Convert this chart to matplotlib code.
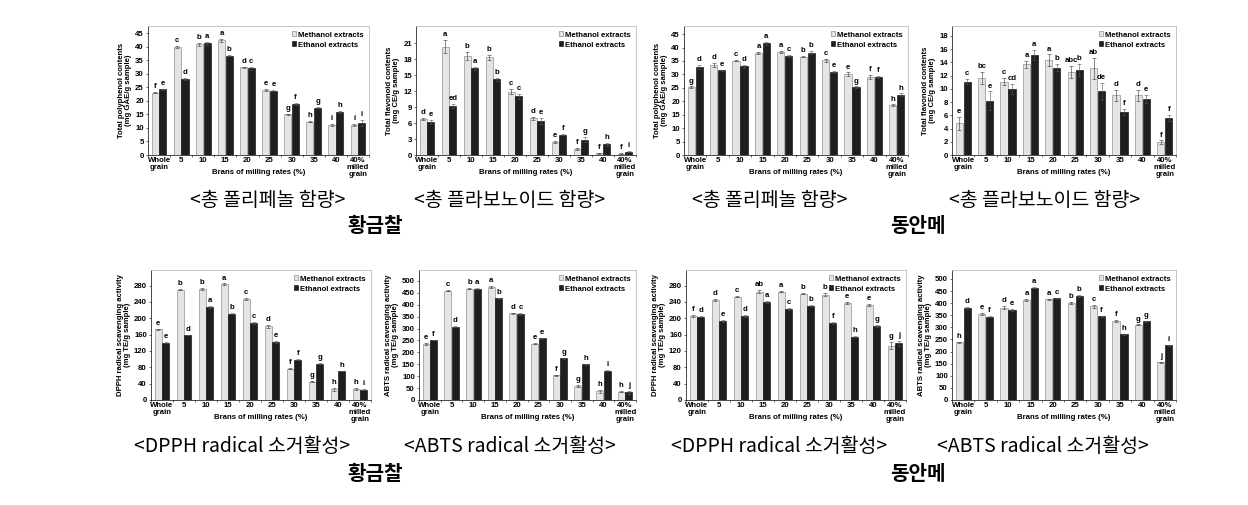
import numpy as np
import matplotlib.pyplot as plt
from matplotlib.patches import Patch

categories = ['Whole\ngrain', '5', '10', '15', '20', '25', '30', '35', '40', '40%\nmilled\ngrain']

# 황금찰 - total polyphenol
hg_tp_m = [23.0, 39.8, 40.8, 42.3, 32.3, 24.0, 15.0, 12.3, 11.0, 11.0]
hg_tp_e = [24.2, 28.0, 41.2, 36.7, 32.0, 23.8, 18.9, 17.4, 15.9, 11.8]
hg_tp_m_err = [0.3, 0.3, 0.5, 0.5, 0.3, 0.4, 0.2, 0.2, 0.3, 0.3]
hg_tp_e_err = [0.3, 0.4, 0.6, 0.3, 0.6, 0.3, 0.3, 0.2, 0.3, 1.0]
hg_tp_m_sig = ['f', 'c', 'b', 'a', 'd', 'e', 'g', 'h', 'i', 'i']
hg_tp_e_sig = ['e', 'd', 'a', 'b', 'c', 'e', 'f', 'g', 'h', 'i']

# 황금찰 - total flavonoid
hg_tf_m = [6.7, 20.3, 18.6, 18.3, 11.9, 6.9, 2.4, 1.1, 0.3, 0.2]
hg_tf_e = [6.2, 9.2, 16.3, 14.2, 11.0, 6.4, 3.8, 2.9, 2.0, 0.6]
hg_tf_m_err = [0.2, 1.2, 0.7, 0.5, 0.5, 0.3, 0.2, 0.2, 0.1, 0.1]
hg_tf_e_err = [0.4, 0.3, 0.3, 0.3, 0.5, 0.5, 0.1, 0.4, 0.3, 0.1]
hg_tf_m_sig = ['d', 'a', 'b', 'b', 'c', 'd', 'e', 'f', 'f', 'f']
hg_tf_e_sig = ['e', 'ed', 'a', 'b', 'c', 'e', 'f', 'g', 'h', 'i']

# 동안메 - total polyphenol
da_tp_m = [25.3, 33.6, 35.0, 38.0, 38.3, 36.6, 35.2, 30.1, 29.0, 18.5]
da_tp_e = [32.8, 31.5, 33.0, 41.5, 36.8, 38.1, 30.8, 25.2, 29.0, 22.4]
da_tp_m_err = [0.2, 0.8, 0.2, 0.3, 0.3, 0.2, 0.7, 0.6, 0.7, 0.3]
da_tp_e_err = [0.8, 0.3, 0.6, 0.4, 0.3, 0.7, 0.3, 0.3, 0.3, 0.5]
da_tp_m_sig = ['g', 'd', 'c', 'a', 'a', 'b', 'c', 'e', 'f', 'h']
da_tp_e_sig = ['d', 'e', 'd', 'a', 'c', 'b', 'e', 'g', 'f', 'h']

# 동안메 - total flavonoid
da_tf_m = [4.8, 11.7, 11.1, 13.7, 14.3, 12.6, 13.1, 9.0, 9.0, 1.9]
da_tf_e = [11.1, 8.2, 10.0, 15.1, 13.2, 12.8, 9.6, 6.5, 8.5, 5.6]
da_tf_m_err = [1.0, 0.9, 0.5, 0.5, 0.9, 0.9, 1.6, 0.9, 0.9, 0.3]
da_tf_e_err = [0.4, 1.4, 0.8, 0.8, 0.5, 0.9, 1.3, 0.5, 0.6, 0.4]
da_tf_m_sig = ['e', 'bc', 'c', 'a', 'a', 'abc', 'ab', 'd', 'd', 'f']
da_tf_e_sig = ['c', 'e', 'cd', 'a', 'b', 'b', 'de', 'f', 'e', 'f']

# 황금찰 - DPPH
hg_dp_m = [173, 270, 272, 283, 247, 180, 77, 45, 26, 27]
hg_dp_e = [140, 159, 227, 211, 188, 142, 99, 89, 71, 25]
hg_dp_m_err = [1, 1, 2, 2, 3, 3, 2, 2, 4, 3]
hg_dp_e_err = [1, 1, 2, 1, 2, 2, 1, 1, 1, 1]
hg_dp_m_sig = ['e', 'b', 'b', 'a', 'c', 'd', 'f', 'g', 'h', 'h']
hg_dp_e_sig = ['e', 'd', 'a', 'b', 'c', 'e', 'f', 'g', 'h', 'i']

# 황금찰 - ABTS
hg_ab_m = [235, 459, 467, 475, 364, 237, 103, 59, 36, 35]
hg_ab_e = [252, 308, 467, 427, 362, 260, 175, 150, 123, 33]
hg_ab_m_err = [3, 2, 2, 3, 2, 2, 3, 4, 5, 2]
hg_ab_e_err = [2, 3, 2, 2, 3, 2, 2, 2, 2, 6]
hg_ab_m_sig = ['e', 'c', 'b', 'a', 'd', 'e', 'f', 'g', 'h', 'h']
hg_ab_e_sig = ['f', 'd', 'a', 'b', 'c', 'e', 'g', 'h', 'i', 'j']

# 동안메 - DPPH
da_dp_m = [206, 244, 253, 265, 265, 260, 258, 237, 232, 133]
da_dp_e = [204, 194, 206, 240, 222, 231, 188, 155, 181, 139]
da_dp_m_err = [2, 2, 2, 4, 2, 1, 4, 2, 2, 8]
da_dp_e_err = [2, 2, 2, 2, 2, 2, 2, 1, 2, 6]
da_dp_m_sig = ['f', 'd', 'c', 'ab', 'a', 'b', 'b', 'e', 'e', 'g']
da_dp_e_sig = ['d', 'e', 'd', 'a', 'c', 'b', 'f', 'h', 'g', 'j']

# 동안메 - ABTS
da_ab_m = [238, 355, 381, 414, 416, 400, 388, 326, 310, 155]
da_ab_e = [380, 344, 372, 463, 420, 430, 346, 272, 325, 227]
da_ab_m_err = [3, 5, 6, 3, 2, 4, 6, 3, 2, 2]
da_ab_e_err = [5, 2, 3, 2, 3, 3, 2, 2, 2, 2]
da_ab_m_sig = ['h', 'e', 'd', 'a', 'a', 'b', 'c', 'f', 'g', 'j']
da_ab_e_sig = ['d', 'f', 'e', 'a', 'c', 'b', 'f', 'h', 'g', 'i']

tp_label = 'Total polyphenol contents\n(mg GAE/g sample)'
tf_label = 'Total flavonoid contents\n(mg CE/g sample)'
dp_label = 'DPPH radical scavenging activity\n(mg TE/g sample)'
ab_label = 'ABTS radical scavenging activity\n(mg TE/g sample)'

W, H = 1248, 505
fig = plt.figure(figsize=(W / 100, H / 100), dpi=100)
plt.rcParams['font.family'] = ['Liberation Sans', 'DejaVu Sans']

LIGHT = '#e4e4e4'
DARK = '#1e1e1e'
FS = 5.6


def draw(box, m, e, me, ee, ms, es, ylabel, ymax, ytop, step):
    x0, y0, x1, y1 = box
    ax = fig.add_axes([x0 / W, 1 - y1 / H, (x1 - x0) / W, (y1 - y0) / H])
    x = np.arange(len(categories))
    bw = 0.32
    ax.bar(x - 0.175, m, bw, color=LIGHT, edgecolor='#7a7a7a', linewidth=0.4)
    ax.bar(x + 0.175, e, bw, color=DARK, edgecolor='#000000', linewidth=0.4)
    ax.errorbar(x - 0.175, m, yerr=me, fmt='none', ecolor='#333333', elinewidth=0.4, capsize=1.2, capthick=0.4)
    ax.errorbar(x + 0.175, e, yerr=ee, fmt='none', ecolor='#555555', elinewidth=0.4, capsize=1.2, capthick=0.4)
    off = ytop * 0.015
    for i in range(len(x)):
        ax.text(x[i] - 0.175, m[i] + me[i] + off, ms[i], ha='center', va='bottom', fontsize=FS, fontweight='bold')
        ax.text(x[i] + 0.175, e[i] + ee[i] + off, es[i], ha='center', va='bottom', fontsize=FS, fontweight='bold')
    ax.set_xlim(-0.5, len(x) - 0.5)
    ax.set_ylim(0, ytop)
    ax.set_yticks(np.arange(0, ymax + step / 2, step))
    ax.set_xticks(x)
    ax.set_xticklabels(categories, fontsize=FS, fontweight='bold', linespacing=0.95)
    ax.tick_params(axis='y', labelsize=FS, length=1.5, width=0.4, pad=1.5)
    ax.tick_params(axis='x', length=0, pad=1.5)
    for lab in ax.get_yticklabels():
        lab.set_fontweight('bold')
    ax.set_xticks(np.arange(len(x) + 1) - 0.5, minor=True)
    ax.tick_params(axis='x', which='minor', length=1.5, width=0.4)
    ax.spines['top'].set_color('#bdbdbd')
    ax.spines['right'].set_color('#bdbdbd')
    ax.spines['top'].set_linewidth(0.6)
    ax.spines['right'].set_linewidth(0.6)
    ax.spines['left'].set_linewidth(0.5)
    ax.spines['bottom'].set_linewidth(0.5)
    ax.set_ylabel(ylabel, fontsize=FS, fontweight='bold', labelpad=2, linespacing=1.0)
    ax.set_xlabel('Brans of milling rates (%)', fontsize=FS, fontweight='bold', labelpad=-6)
    handles = [Patch(facecolor=LIGHT, edgecolor='#7a7a7a', linewidth=0.4, label='Methanol extracts'),
               Patch(facecolor=DARK, edgecolor='#000000', linewidth=0.4, label='Ethanol extracts')]
    leg = ax.legend(handles=handles, loc='upper right', bbox_to_anchor=(1.0, 1.0), frameon=False,
                    fontsize=FS, handlelength=0.6, handleheight=0.6, handletextpad=0.2,
                    labelspacing=0.35, borderpad=0.2)
    for t in leg.get_texts():
        t.set_fontweight('bold')
    return ax


draw((148, 26, 369, 155), hg_tp_m, hg_tp_e, hg_tp_m_err, hg_tp_e_err, hg_tp_m_sig, hg_tp_e_sig, tp_label, 45, 47.6, 5)
draw((416, 26, 636, 155), hg_tf_m, hg_tf_e, hg_tf_m_err, hg_tf_e_err, hg_tf_m_sig, hg_tf_e_sig, tf_label, 21, 24.2, 3)
draw((684, 26, 908, 155), da_tp_m, da_tp_e, da_tp_m_err, da_tp_e_err, da_tp_m_sig, da_tp_e_sig, tp_label, 45, 48.0, 5)
draw((952, 26, 1176, 155), da_tf_m, da_tf_e, da_tf_m_err, da_tf_e_err, da_tf_m_sig, da_tf_e_sig, tf_label, 18, 19.5, 2)

draw((151, 270, 371, 400), hg_dp_m, hg_dp_e, hg_dp_m_err, hg_dp_e_err, hg_dp_m_sig, hg_dp_e_sig, dp_label, 280, 318, 40)
draw((419, 270, 636, 400), hg_ab_m, hg_ab_e, hg_ab_m_err, hg_ab_e_err, hg_ab_m_sig, hg_ab_e_sig, ab_label, 500, 546, 50)
draw((686, 270, 906, 400), da_dp_m, da_dp_e, da_dp_m_err, da_dp_e_err, da_dp_m_sig, da_dp_e_sig, dp_label, 280, 318, 40)
draw((952, 270, 1176, 400), da_ab_m, da_ab_e, da_ab_m_err, da_ab_e_err, da_ab_m_sig, da_ab_e_sig, ab_label, 500, 537, 50)

kr = ['Noto Sans CJK KR', 'DejaVu Sans']
cap_fs = 14
for cx, cy, s in [(268, 201, '<총 폴리페놀 함량>'), (510, 201, '<총 플라보노이드 함량>'),
                  (770, 201, '<총 폴리페놀 함량>'), (1045, 201, '<총 플라보노이드 함량>'),
                  (242, 447, '<DPPH radical 소거활성>'), (510, 447, '<ABTS radical 소거활성>'),
                  (779, 447, '<DPPH radical 소거활성>'), (1043, 447, '<ABTS radical 소거활성>')]:
    fig.text(cx / W, 1 - cy / H, s, ha='center', va='center', fontsize=cap_fs, family=kr)
for cx, cy, s in [(375, 226, '황금찰'), (918, 226, '동안메'), (375, 474, '황금찰'), (918, 474, '동안메')]:
    fig.text(cx / W, 1 - cy / H, s, ha='center', va='center', fontsize=14.5, fontweight='bold', family=kr)

fig.savefig('out.png', dpi=100)
